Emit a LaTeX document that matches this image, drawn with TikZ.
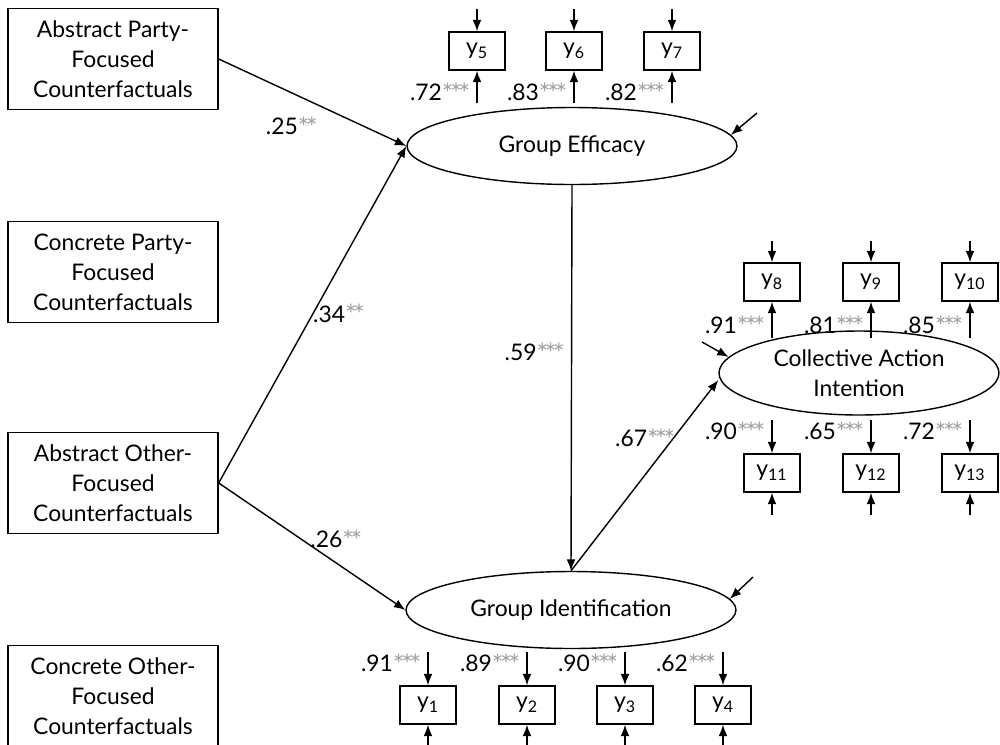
\documentclass[tikz,border=0pt]{standalone}
\usepackage{fontspec}
\setmainfont{Lato}
\usepackage{xcolor}
\usetikzlibrary{arrows.meta,shapes.geometric}
\tikzset{
	cf/.style={draw, align=center, minimum width=4.2cm, minimum height=2.02cm, inner sep=0},
	lat/.style={draw, ellipse, minimum width=6.6cm, minimum height=1.54cm, inner sep=0},
	ind/.style={draw, minimum width=1.12cm, minimum height=0.76cm, inner sep=0},
	coef/.style={inner sep=3.5pt}
}
\newcommand{\sig}[1]{\raisebox{-1.4pt}{\color{gray!75}\fontsize{15.5}{17}\selectfont\addfontfeatures{LetterSpace=-12}#1}}

\begin{document}
\begin{tikzpicture}[x=0.02cm, y=-0.02cm, >={Latex[length=6.5pt,width=5pt]}, line width=0.8pt, font=\fontsize{13}{17}\selectfont]
        \useasboundingbox (0,0) rectangle (1000,744);
        % counterfactual conditions
        \node[cf] (apc) at (113,59) {Abstract Party-\\Focused\\Counterfactuals};
        \node[cf] (cpc) at (113,272) {Concrete Party-\\Focused\\Counterfactuals};
        \node[cf] (aoc) at (113,483) {Abstract Other-\\Focused\\Counterfactuals};
        \node[cf] (coc) at (113,696) {Concrete Other-\\Focused\\Counterfactuals};
        % latent variables
        \node[lat] (eff) at (572,146) {Group Efficacy};
        \node[lat] (gid) at (571,610) {Group Identification};
        \node[lat, minimum width=5.6cm, minimum height=1.68cm, align=center] (cai) at (859,373) {Collective Action\\Intention};
        % indicators
        \node[ind] (y5) at (477,51) {y\textsubscript{5}};
        \node[ind] (y6) at (574,51) {y\textsubscript{6}};
        \node[ind] (y7) at (672,51) {y\textsubscript{7}};
        \node[ind] (y8) at (772,282) {y\textsubscript{8}};
        \node[ind] (y9) at (871,282) {y\textsubscript{9}};
        \node[ind] (y10) at (970,282) {y\textsubscript{10}};
        \node[ind] (y11) at (772,473) {y\textsubscript{11}};
        \node[ind] (y12) at (871,473) {y\textsubscript{12}};
        \node[ind] (y13) at (970,473) {y\textsubscript{13}};
        \node[ind] (y1) at (428,705) {y\textsubscript{1}};
        \node[ind] (y2) at (527,705) {y\textsubscript{2}};
        \node[ind] (y3) at (625,705) {y\textsubscript{3}};
        \node[ind] (y4) at (723,705) {y\textsubscript{4}};
        % disturbances
        \coordinate (deff) at (757,113);
        \coordinate (dgid) at (753,577);
        \coordinate (dcai) at (702,342);
        \draw[->] (deff) -- (eff.4);
        \draw[->] (dgid) -- (gid.4);
        \draw[->] (dcai) -- (cai.173);
        % structural paths
        \draw[->] (apc.east) -- node[pos=0.39, yshift=-0.68cm] {.25\sig{**}} (eff.west);
        \draw[->] (aoc.east) -- node[pos=0.5, right, inner sep=0] {.34\sig{**}} (eff.west);
        \draw[->] (aoc.east) -- node[pos=0.63, yshift=0.46cm] {.26\sig{**}} (gid.west);
        \draw[->] (eff.south) -- node[pos=0.435, left, coef] {.59\sig{***}} (gid.north);
        \draw[->] (gid.north) -- node[pos=0.69, left, inner sep=1pt, xshift=0.1cm] {.67\sig{***}} ([yshift=-0.14cm]cai.west);
        % measurement of group efficacy
        \path ([yshift=0.44cm]y5.north) edge[->] (y5.north)
        ([yshift=-0.64cm]y5.south) edge[->] node[coef, left, pos=0.3] {.72\sig{***}} (y5.south);
        \path ([yshift=0.44cm]y6.north) edge[->] (y6.north)
        ([yshift=-0.64cm]y6.south) edge[->] node[coef, left, pos=0.3] {.83\sig{***}} (y6.south);
        \path ([yshift=0.44cm]y7.north) edge[->] (y7.north)
        ([yshift=-0.64cm]y7.south) edge[->] node[coef, left, pos=0.3] {.82\sig{***}} (y7.south);
        % measurement of collective action intention
        \path ([yshift=0.42cm]y8.north) edge[->] (y8.north)
        ([yshift=-0.72cm]y8.south) edge[->] node[coef, left, pos=0.33] {.91\sig{***}} (y8.south);
        \path ([yshift=0.42cm]y9.north) edge[->] (y9.north)
        ([yshift=-0.72cm]y9.south) edge[->] node[coef, left, pos=0.33] {.81\sig{***}} (y9.south);
        \path ([yshift=0.42cm]y10.north) edge[->] (y10.north)
        ([yshift=-0.72cm]y10.south) edge[->] node[coef, left, pos=0.33] {.85\sig{***}} (y10.south);
        \path ([yshift=0.66cm]y11.north) edge[->] node[coef, left, pos=0.35] {.90\sig{***}} (y11.north)
        ([yshift=-0.44cm]y11.south) edge[->] (y11.south);
        \path ([yshift=0.66cm]y12.north) edge[->] node[coef, left, pos=0.35] {.65\sig{***}} (y12.north)
        ([yshift=-0.44cm]y12.south) edge[->] (y12.south);
        \path ([yshift=0.66cm]y13.north) edge[->] node[coef, left, pos=0.35] {.72\sig{***}} (y13.north)
        ([yshift=-0.44cm]y13.south) edge[->] (y13.south);
        % measurement of group identification
        \path ([yshift=0.66cm]y1.north) edge[->] node[coef, left, pos=0.36] {.91\sig{***}} (y1.north)
        ([yshift=-0.44cm]y1.south) edge[->] (y1.south);
        \path ([yshift=0.66cm]y2.north) edge[->] node[coef, left, pos=0.36] {.89\sig{***}} (y2.north)
        ([yshift=-0.44cm]y2.south) edge[->] (y2.south);
        \path ([yshift=0.66cm]y3.north) edge[->] node[coef, left, pos=0.36] {.90\sig{***}} (y3.north)
        ([yshift=-0.44cm]y3.south) edge[->] (y3.south);
        \path ([yshift=0.66cm]y4.north) edge[->] node[coef, left, pos=0.36] {.62\sig{***}} (y4.north)
        ([yshift=-0.44cm]y4.south) edge[->] (y4.south);
    \end{tikzpicture}
\end{document}
